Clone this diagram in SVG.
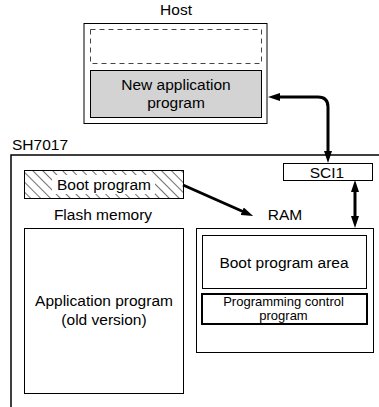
<svg xmlns="http://www.w3.org/2000/svg" width="379" height="407" viewBox="0 0 379 407">
<style>
text{font-family:"Liberation Sans",Arial,sans-serif;font-size:15.5px;fill:#000;text-anchor:middle}
.box{fill:#fff;stroke:#000;stroke-width:1}
.conn{fill:none;stroke:#000;stroke-width:3}
.small{font-size:13px}
</style>
<defs>
<pattern id="hatch" width="7" height="7" patternUnits="userSpaceOnUse" patternTransform="rotate(-45)">
<line x1="0" y1="0" x2="0" y2="7" stroke="#000" stroke-width="1.1"/>
</pattern>
<marker id="ah" markerUnits="userSpaceOnUse" markerWidth="13" markerHeight="9" refX="2" refY="4.5" orient="auto-start-reverse">
<path d="M0,0.5 L12,4.5 L0,8.5 z" fill="#000"/>
</marker>
</defs>
<rect width="379" height="407" fill="#fff"/>

<g id="host">
<text x="176" y="15">Host</text>
<rect x="84" y="23.5" width="183" height="100" class="box" stroke-width="1.5"/>
<rect x="90.5" y="29.5" width="171" height="34" fill="none" stroke="#444" stroke-dasharray="5,4"/>
<rect x="90.5" y="70.5" width="171" height="47" fill="#d3d3d3" stroke="#000"/>
<text x="176" y="90">New application</text>
<text x="176" y="108">program</text>
</g>

<g id="sh7017">
<text x="12" y="150" style="text-anchor:start">SH7017</text>
<path d="M11,407 V155 H379" fill="none" stroke="#000" stroke-width="1.5"/>
</g>

<g id="sci1">
<rect x="283.5" y="163.5" width="89" height="17" class="box"/>
<text x="327" y="178">SCI1</text>
</g>

<g id="boot">
<rect x="24.5" y="170.5" width="159" height="28" fill="url(#hatch)" stroke="#000"/>
<rect x="52" y="175" width="103" height="19" fill="#fff"/>
<text x="104" y="190">Boot program</text>
</g>

<g id="flash">
<text x="103" y="220">Flash memory</text>
<rect x="24.5" y="228.5" width="159" height="165" class="box"/>
<text x="104" y="306">Application program</text>
<text x="104" y="325">(old version)</text>
</g>

<g id="ram">
<text x="285" y="220">RAM</text>
<rect x="196.5" y="228.5" width="177" height="124" class="box"/>
<rect x="202.5" y="235.5" width="164" height="53" class="box"/>
<text x="284" y="268">Boot program area</text>
<rect x="202" y="294" width="165" height="30" fill="#fff" stroke="#000" stroke-width="2"/>
<text x="283.5" y="305.5" class="small">Programming control</text>
<text x="283.5" y="320" class="small">program</text>
</g>

<g id="connectors">
<path class="conn" d="M278,97 H318 Q328,97 328,107 V153" marker-start="url(#ah)" marker-end="url(#ah)"/>
<path class="conn" d="M355,190 V218" marker-start="url(#ah)" marker-end="url(#ah)"/>
<path class="conn" stroke-width="2.5" d="M183,185 L244,212" marker-end="url(#ah)"/>
</g>
</svg>
